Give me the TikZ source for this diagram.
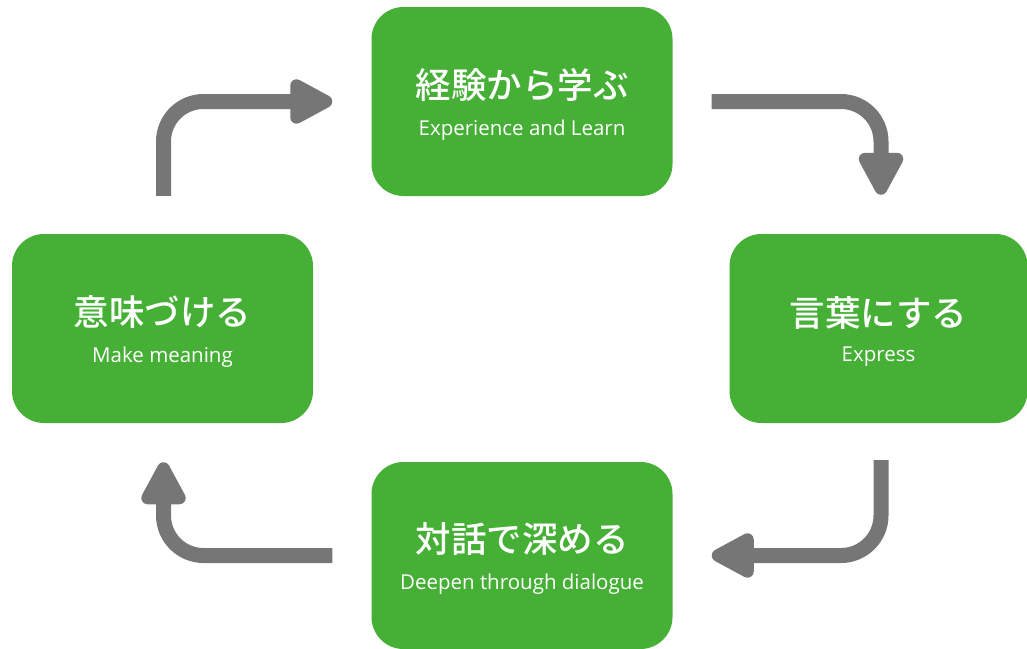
\documentclass[tikz,border=0pt]{standalone}
\usepackage{fontspec}
\setmainfont{Open Sans}
\newfontfamily\jpfont{Noto Sans CJK JP Medium}
\usetikzlibrary{arrows.meta}
\definecolor{stepgreen}{RGB}{70,175,54}
\definecolor{arrowgray}{RGB}{118,118,118}
\tikzset{
  stepbox/.style={fill=stepgreen, text=white, rounded corners=32pt, minimum width=301pt,
    minimum height=189pt, align=center, inner sep=0pt},
  flow/.style={draw=arrowgray, line width=15pt, rounded corners=40pt,
    -{Triangle[length=50pt,width=49pt,round]}}
}
\newcommand{\steptext}[2]{{\jpfont\fontsize{35.5}{38}\selectfont\rule{0pt}{36pt}#1}\\[17pt]{\fontsize{20.5}{22}\selectfont #2}}

\begin{document}
\begin{tikzpicture}[x=1pt, y=-1pt]
			%%%%% START %%%%%
			\useasboundingbox (0, 0) rectangle (1027, 648);
			
			\node[stepbox] (learn) at (522, 101.5) {\steptext{経験から学ぶ}{Experience and Learn}};
			\node[stepbox, minimum width=298pt] (express) at (878.5, 328.5) {\steptext{言葉にする}{Express}};
			\node[stepbox, minimum height=187pt] (dialogue) at (522, 555.5) {\steptext{対話で深める}{Deepen through dialogue}};
			\node[stepbox] (meaning) at (162.5, 328.5) {\steptext{意味づける}{Make meaning}};
			
			%%%%% ARROWS %%%%%
			\draw[flow] ([xshift=1pt, yshift=38pt]meaning.north) |- ([xshift=-39pt]learn.west);
			\draw[flow] ([xshift=39pt]learn.east) -| ([xshift=2.5pt, yshift=39pt]express.north);
			\draw[flow] ([xshift=2.5pt, yshift=-37pt]express.south) |- ([xshift=39pt]dialogue.east);
			\draw[flow] ([xshift=-39pt]dialogue.west) -| ([xshift=1pt, yshift=-39pt]meaning.south);
			%%%%% END %%%%%
\end{tikzpicture}
\end{document}
